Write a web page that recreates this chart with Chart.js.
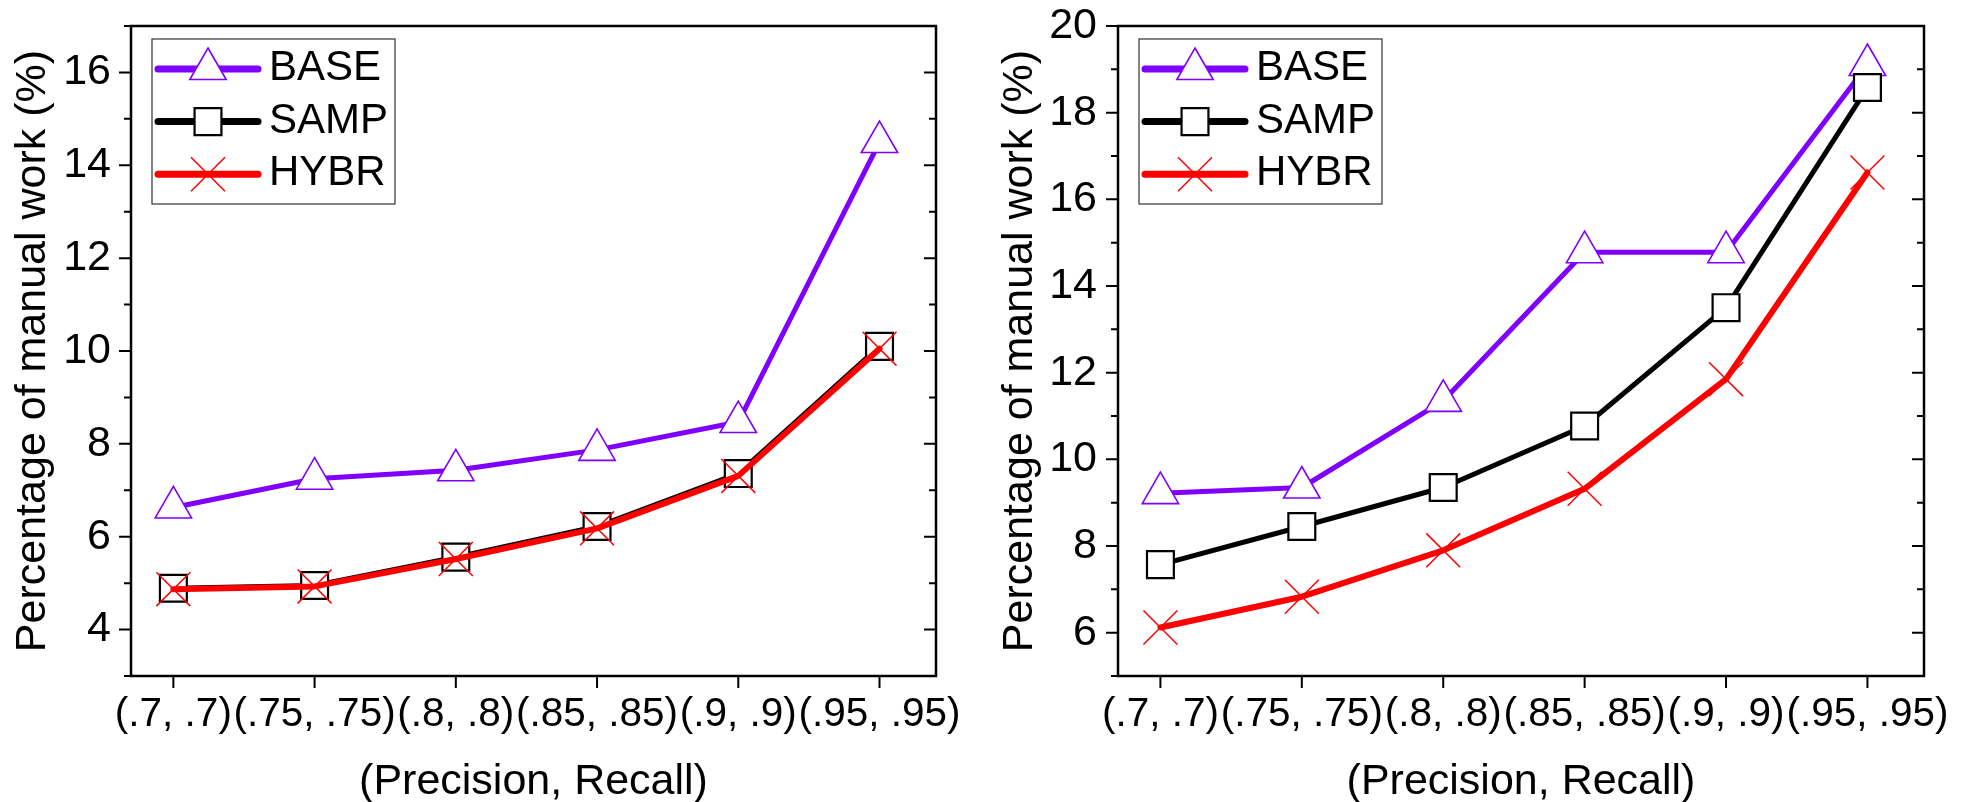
<!DOCTYPE html>
<html>
<head>
<meta charset="utf-8">
<script src="https://cdn.jsdelivr.net/npm/chart.js@4.4.1/dist/chart.umd.min.js"></script>
<style>
    html, body { margin: 0; padding: 0; background: #fff; }
    body { width: 1965px; height: 802px; position: relative; overflow: hidden; }
    canvas { position: absolute; top: 0; }
    #leftChart { left: 0; }
    #rightChart { left: 980px; }
</style>
</head>
<body>
<canvas id="leftChart" width="980" height="802"></canvas>
<canvas id="rightChart" width="985" height="802"></canvas>
<script>
const categories = ["(.7, .7)", "(.75, .75)", "(.8, .8)", "(.85, .85)", "(.9, .9)", "(.95, .95)"];
const seriesNames = ["BASE", "SAMP", "HYBR"];

const leftBase = [6.63, 7.25, 7.43, 7.87, 8.47, 14.5];
const leftSamp = [4.89, 4.95, 5.56, 6.22, 7.36, 10.1];
const leftHybr = [4.87, 4.93, 5.52, 6.18, 7.31, 10.05];
const leftYTicks = [4, 6, 8, 10, 12, 14, 16];

const rightBase = [9.22, 9.35, 11.35, 14.78, 14.78, 19.1];
const rightSamp = [7.57, 8.45, 9.35, 10.77, 13.5, 18.58];
const rightHybr = [6.12, 6.83, 7.9, 9.32, 11.85, 16.62];
const rightYTicks = [6, 8, 10, 12, 14, 16, 18, 20];

const FONT = "'Liberation Sans', Arial, sans-serif";
const VIOLET = "#7f00ff";

Chart.defaults.font.family = FONT;
Chart.defaults.color = "#000";

function toPoints(values) {
    return values.map((v, i) => ({ x: i, y: v }));
}

function lineSets(base, samp, hybr) {
    return [
        {
            label: seriesNames[0],
            data: toPoints(base),
            borderColor: VIOLET,
            borderWidth: 5,
            pointStyle: "triangle",
            pointRadius: 21,
            pointBorderWidth: 1.6,
            pointBorderColor: VIOLET,
            pointBackgroundColor: "#fff",
            order: 3,
        },
        {
            label: seriesNames[1],
            data: toPoints(samp),
            borderColor: "#000",
            borderWidth: 5,
            pointStyle: "rect",
            pointRadius: 19,
            pointBorderWidth: 2.2,
            pointBorderColor: "#000",
            pointBackgroundColor: "#fff",
            order: 2,
        },
        {
            label: seriesNames[2],
            data: toPoints(hybr),
            borderColor: "#ff0000",
            borderWidth: 6,
            pointStyle: "crossRot",
            pointRadius: 24,
            pointBorderWidth: 1.5,
            pointBorderColor: "#ff0000",
            pointBackgroundColor: "#fff",
            order: 1,
        },
    ];
}

// box around the plot plus the major/minor tick marks
const framePlugin = {
    id: "frame",
    beforeDatasetsDraw(chart) {
        const { ctx, chartArea: a, scales } = chart;
        const x = scales.x, y = scales.y;
        const major = y.ticks.map((t) => t.value);
        ctx.save();
        ctx.strokeStyle = "#000";
        ctx.lineWidth = 2;
        ctx.beginPath();
        for (let v = Math.ceil(y.min); v <= y.max; v++) {
            const py = y.getPixelForValue(v);
            const len = major.includes(v) ? 12 : 7;
            ctx.moveTo(a.left - len, py);
            ctx.lineTo(a.left, py);
            ctx.moveTo(a.right, py);
            ctx.lineTo(a.right - len, py);
        }
        categories.forEach((_, i) => {
            const px = x.getPixelForValue(i);
            ctx.moveTo(px, a.bottom);
            ctx.lineTo(px, a.bottom + 12);
        });
        ctx.stroke();
        ctx.lineWidth = 2.5;
        ctx.strokeRect(a.left, a.top, a.right - a.left, a.bottom - a.top);
        ctx.restore();
    },
};

// legend box in the upper left corner: line, marker, name
const boxLegendPlugin = {
    id: "boxLegend",
    afterDatasetsDraw(chart) {
        const { ctx, chartArea: a } = chart;
        const left = a.left + 21;
        const top = a.top + 13;
        ctx.save();
        ctx.fillStyle = "#fff";
        ctx.fillRect(left, top, 243, 165);
        ctx.lineWidth = 1.2;
        ctx.strokeStyle = "#333";
        ctx.strokeRect(left, top, 243, 165);

        chart.data.datasets.forEach((ds, i) => {
            const cy = top + 30 + i * 52.6;
            ctx.strokeStyle = ds.borderColor;
            ctx.lineWidth = 7;
            ctx.lineCap = "round";
            ctx.beginPath();
            ctx.moveTo(left + 6, cy);
            ctx.lineTo(left + 106, cy);
            ctx.stroke();

            ctx.lineCap = "butt";
            ctx.fillStyle = "#fff";
            ctx.strokeStyle = ds.pointBorderColor;
            ctx.lineWidth = ds.pointBorderWidth;
            Chart.helpers.drawPoint(ctx, {
                pointStyle: ds.pointStyle,
                radius: ds.pointRadius,
                borderWidth: ds.pointBorderWidth,
                rotation: 0,
            }, left + 56, cy);

            ctx.fillStyle = "#000";
            ctx.font = "42px " + FONT;
            ctx.textAlign = "left";
            ctx.textBaseline = "middle";
            ctx.fillText(ds.label, left + 117, cy - 0.5);
        });
        ctx.restore();
    },
};

function makeOptions(yMin, yMax, yTicks, axisWidth, rightPad, titlePad, labelPad) {
    return {
        responsive: false,
        animation: false,
        devicePixelRatio: 1,
        clip: false,
        layout: { padding: { top: 26, right: rightPad, bottom: 0, left: 0 } },
        elements: {
            line: { tension: 0, borderJoinStyle: "round", borderCapStyle: "round" },
        },
        plugins: {
            legend: { display: false },
            tooltip: { enabled: false },
        },
        scales: {
            x: {
                type: "linear",
                min: -0.3,
                max: 5.4,
                afterBuildTicks: (s) => {
                    s.ticks = categories.map((_, i) => ({ value: i }));
                },
                afterFit: (s) => {
                    s.height = 126;
                    s.paddingLeft = 0;
                    s.paddingRight = 0;
                },
                grid: { display: false, drawTicks: false },
                border: { display: false },
                ticks: {
                    autoSkip: false,
                    maxRotation: 0,
                    minRotation: 0,
                    padding: 15,
                    color: "#000",
                    font: { size: 40.5 },
                    callback: (v) => categories[v],
                },
                title: {
                    display: true,
                    text: "(Precision, Recall)",
                    color: "#000",
                    font: { size: 43, lineHeight: 1 },
                    padding: { top: 0, bottom: -2 },
                },
            },
            y: {
                type: "linear",
                min: yMin,
                max: yMax,
                afterBuildTicks: (s) => {
                    s.ticks = yTicks.map((v) => ({ value: v }));
                },
                afterFit: (s) => {
                    s.width = axisWidth;
                    s.paddingTop = 0;
                    s.paddingBottom = 0;
                },
                grid: { display: false, drawTicks: false },
                border: { display: false },
                ticks: {
                    autoSkip: false,
                    padding: labelPad,
                    color: "#000",
                    font: { size: 43 },
                },
                title: {
                    display: true,
                    text: "Percentage of manual work (%)",
                    color: "#000",
                    font: { size: 43 },
                    padding: { top: titlePad, bottom: 0 },
                },
            },
        },
    };
}

new Chart(document.getElementById("leftChart"), {
    type: "line",
    data: { datasets: lineSets(leftBase, leftSamp, leftHybr) },
    options: makeOptions(3, 17, leftYTicks, 131, 44, 7, 20),
    plugins: [framePlugin, boxLegendPlugin],
});

new Chart(document.getElementById("rightChart"), {
    type: "line",
    data: { datasets: lineSets(rightBase, rightSamp, rightHybr) },
    options: makeOptions(5, 20, rightYTicks, 138, 41, 14, 21),
    plugins: [framePlugin, boxLegendPlugin],
});
</script>
</body>
</html>
